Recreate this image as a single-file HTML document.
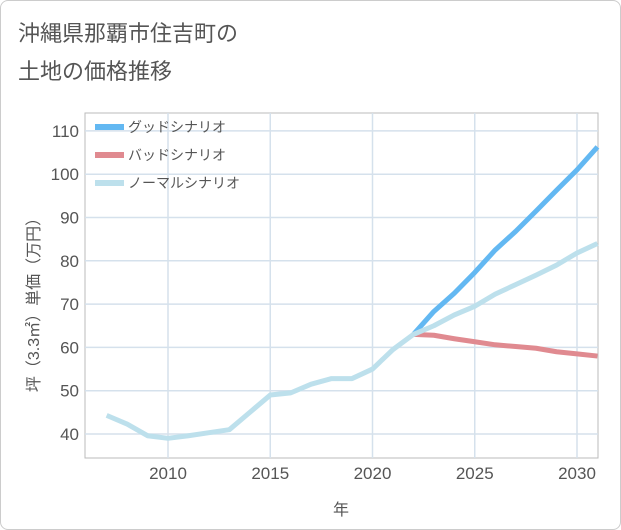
<!DOCTYPE html>
<html><head><meta charset="utf-8"><style>
body{margin:0;background:#fff;}
#wrap{position:relative;width:619px;height:528px;border:1px solid #ccc;border-radius:8px;font-family:"Liberation Sans","Noto Sans CJK JP",sans-serif;overflow:hidden}
#title{position:absolute;left:17px;top:14px;font-size:22px;line-height:38px;color:#555}
svg text{font-family:"Liberation Sans","Noto Sans CJK JP",sans-serif}
</style></head><body>
<div id="wrap">
<div id="title">沖縄県那覇市住吉町の<br>土地の価格推移</div>
<svg id="chart" width="621" height="530" style="position:absolute;left:0;top:0"></svg>
</div>
<script>
const normalYears=[2007,2008,2009,2010,2011,2012,2013,2014,2015,2016,2017,2018,2019,2020,2021,2022,2023,2024,2025,2026,2027,2028,2029,2030,2031];
const normalValues=[44.3,42.3,39.6,39.0,39.6,40.3,41.0,45,49,49.5,51.5,52.8,52.8,55,59.5,63,65,67.5,69.5,72.3,74.5,76.7,79,81.8,84];
const scenYears=[2022,2023,2024,2025,2026,2027,2028,2029,2030,2031];
const goodValues=[63,68.3,72.5,77.3,82.5,86.8,91.5,96.3,101,106.3];
const badValues=[63,62.8,62,61.3,60.6,60.2,59.8,59,58.5,58];
const xTicks=[2010,2015,2020,2025,2030];
const yTicks=[40,50,60,70,80,90,100,110];
const legendLabels=["グッドシナリオ","バッドシナリオ","ノーマルシナリオ"];
const NS="http://www.w3.org/2000/svg";
const svg=document.getElementById('chart');
const L=84,R=597,T=112,B=457;
const x=y=>167+(y-2010)*20.45;
const yy=v=>433-(v-40)*4.33;
function mk(t,a){const e=document.createElementNS(NS,t);for(const k in a)e.setAttribute(k,a[k]);svg.appendChild(e);return e;}
let e=mk('rect',{x:L,y:T,width:R-L,height:B-T,fill:'none',stroke:'#bbb'});


xTicks.forEach(t=>{
 let g=mk('line',{x1:x(t),x2:x(t),y1:T,y2:B,stroke:'#d5e1ec','stroke-width':1.5});
 
 
 let l=mk('text',{x:x(t),y:478,'text-anchor':'middle','font-size':17,fill:'#555'});l.textContent=t;
 
 
});
yTicks.forEach(t=>{
 let g=mk('line',{x1:L,x2:R,y1:yy(t),y2:yy(t),stroke:'#d5e1ec','stroke-width':1.5});
 
 
 let l=mk('text',{x:78,y:yy(t)+6,'text-anchor':'end','font-size':17,fill:'#555'});l.textContent=t;
 
 
});
let xt=mk('text',{x:340,y:514,'text-anchor':'middle','font-size':16,fill:'#555'});xt.textContent='年';


let yt=mk('text',{x:0,y:0,'text-anchor':'middle','font-size':16,fill:'#555',transform:'translate(38,300) rotate(-90)'});yt.textContent='坪（3.3㎡）単価（万円）';


function line(xs,vs,c,n){
 const p=mk('polyline',{points:xs.map((t,i)=>x(t)+','+yy(vs[i])).join(' '),fill:'none',stroke:c,'stroke-width':5,'stroke-linejoin':'round'});
 
 
}
line(scenYears,badValues,'#e08a90','bad-scenario-line');
line(scenYears,goodValues,'#63b8f2','good-scenario-line');
line(normalYears,normalValues,'#bde0ec','normal-scenario-line');
const lc=['#63b8f2','#e08a90','#bde0ec'];
legendLabels.forEach((s,i)=>{
 const ly=126+i*28;
 let r=mk('rect',{x:94,y:ly-3,width:29,height:6,fill:lc[i]});
 
 
 let t=mk('text',{x:127,y:ly+5,'font-size':14,fill:'#555'});t.textContent=s;
 
 
});
</script>
</body></html>
